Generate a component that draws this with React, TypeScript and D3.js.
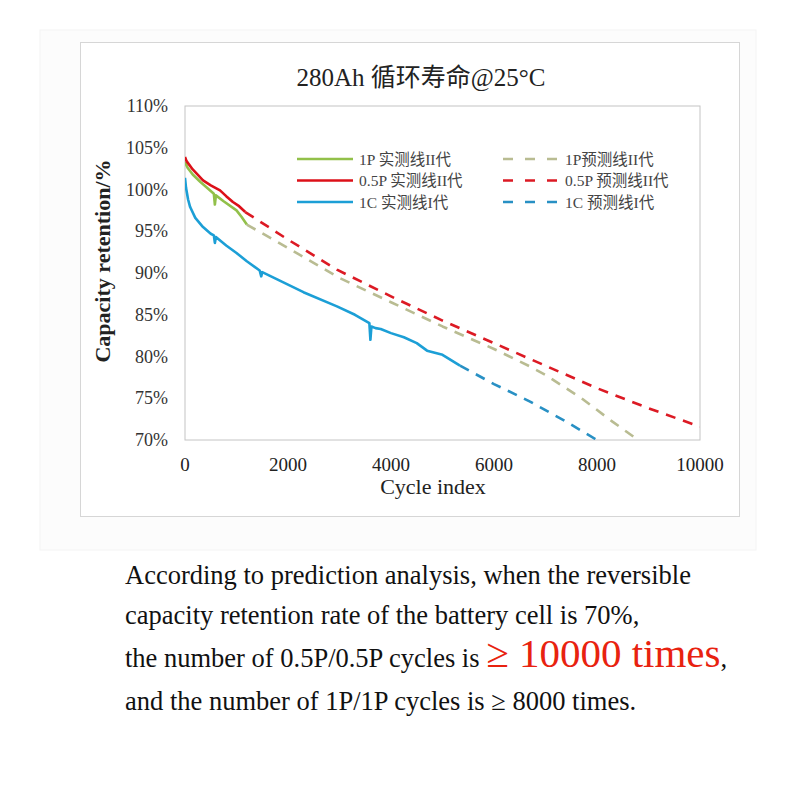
import React from 'react';
import * as d3 from 'd3';

// measured (solid) and predicted (dashed) capacity retention, cycles vs %
const greenCycles = [0, 50, 150, 300, 450, 560, 580, 600, 750, 1000, 1100, 1200];
const greenValues = [103.3, 102.6, 101.8, 100.9, 100.1, 99.5, 98.2, 99.3, 98.6, 97.5, 96.7, 95.8];
const greenPredCycles = [1200, 2000, 3000, 4000, 5000, 6000, 6700, 7000, 7700, 8300, 8800];
const greenPredValues = [95.8, 93.0, 89.4, 86.5, 83.6, 80.9, 78.8, 77.8, 75.0, 72.2, 70.0];

const redCycles = [0, 30, 150, 350, 500, 680, 800, 930, 1050, 1170];
const redValues = [103.9, 103.4, 102.4, 101.1, 100.5, 99.9, 99.2, 98.5, 98.0, 97.3];
const redPredCycles = [1170, 2000, 2950, 4000, 5000, 6000, 6700, 8000, 9000, 10000];
const redPredValues = [97.3, 94.0, 90.4, 87.2, 84.3, 81.6, 79.7, 76.2, 73.8, 71.6];

const blueCycles = [0, 20, 60, 100, 200, 350, 500, 560, 580, 600, 800, 1000, 1200, 1450, 1480, 1500, 1800, 2300, 2950, 3300, 3580, 3600, 3620, 3700, 3800, 4000, 4250, 4500, 4700, 5000, 5340];
const blueValues = [101.4, 100.2, 98.8, 97.9, 96.6, 95.5, 94.7, 94.5, 93.6, 94.3, 93.3, 92.4, 91.4, 90.3, 89.6, 90.1, 89.2, 87.7, 86.0, 85.0, 84.0, 82.0, 83.6, 83.4, 83.3, 82.8, 82.3, 81.6, 80.7, 80.2, 78.9];
const bluePredCycles = [5340, 6000, 6700, 7400, 8000];
const bluePredValues = [78.9, 76.7, 74.6, 72.2, 70.0];

const yTicks = [70, 75, 80, 85, 90, 95, 100, 105, 110];
const xTicks = [0, 2000, 4000, 6000, 8000, 10000];

const legendSolid = ['1P 实测线II代', '0.5P 实测线II代', '1C 实测线I代'];
const legendDashed = ['1P预测线II代', '0.5P 预测线II代', '1C 预测线I代'];

const solidColors = ['#92c04a', '#dc1018', '#1c9fd6'];
const dashColors = ['#b9bc92', '#dc1a24', '#2890c4'];

const serif = '"Liberation Serif", "Times New Roman", serif';
const cjk = '"Liberation Serif", "Noto Sans CJK SC", serif';

const App: React.FC = () => {
  const left = 185, right = 700, top = 106, bottom = 440;
  const x = d3.scaleLinear().domain([0, 10000]).range([left, right]);
  const y = d3.scaleLinear().domain([70, 110]).range([bottom, top]);

  const line = (cs: number[], vs: number[]) =>
    d3.line<number>()
      .x((_, i) => x(cs[i]))
      .y((v) => y(v))(vs) || '';

  const solids = [
    line(greenCycles, greenValues),
    line(redCycles, redValues),
    line(blueCycles, blueValues),
  ];
  const dashes = [
    line(greenPredCycles, greenPredValues),
    line(redPredCycles, redPredValues),
    line(bluePredCycles, bluePredValues),
  ];

  return (
    <svg width={800} height={800} style={{ position: 'absolute', left: 0, top: 0, background: '#fff' }}>
      <defs>
        <clipPath id="plot">
          <rect x={left} y={top} width={right - left} height={bottom - top} />
        </clipPath>
      </defs>
      <rect x={40} y={30} width={716} height={520} fill="#fcfcfc" stroke="#f4f4f4" />
      <rect x={80.5} y={42.5} width={659} height={474} fill="#fff" stroke="#d6d6d6" />

      <text x={421} y={86} textAnchor="middle" fontFamily={cjk} fontSize={25} fill="#222">
        280Ah 循环寿命@25°C
      </text>

      <rect x={left} y={top} width={right - left} height={bottom - top} fill="none" stroke="#c4c4c4" />

      {yTicks.map((t) => (
        <text key={t} x={168} y={y(t) + 6} textAnchor="end" fontFamily={serif} fontSize={18} fill="#333">
          {t}%
        </text>
      ))}
      {xTicks.map((t) => (
        <text key={t} x={x(t)} y={471} textAnchor="middle" fontFamily={serif} fontSize={19} fill="#222">
          {t}
        </text>
      ))}
      <text x={433} y={494} textAnchor="middle" fontFamily={serif} fontSize={22} fill="#222">
        Cycle index
      </text>
      <text
        transform={`translate(110,261) rotate(-90)`}
        textAnchor="middle"
        fontFamily={serif}
        fontSize={22}
        fontWeight="bold"
        fill="#222"
      >
        Capacity retention/%
      </text>

      <g clipPath="url(#plot)" fill="none" strokeLinejoin="round">
        {dashes.map((d, i) => (
          <path key={'d' + i} d={d} stroke={dashColors[i]} strokeWidth={2.6} strokeDasharray="10,8" />
        ))}
        {solids.map((d, i) => (
          <path key={'s' + i} d={d} stroke={solidColors[i]} strokeWidth={2.6} />
        ))}
      </g>

      {legendSolid.map((label, i) => (
        <g key={label} transform={`translate(297,${159 + i * 21.5})`}>
          <line x1={0} x2={56} stroke={solidColors[i]} strokeWidth={2.6} />
          <text x={62} y={5.5} fontFamily={cjk} fontSize={15.5} fill="#444">{label}</text>
        </g>
      ))}
      {legendDashed.map((label, i) => (
        <g key={label} transform={`translate(503,${159 + i * 21.5})`}>
          <line x1={0} x2={56} stroke={dashColors[i]} strokeWidth={2.6} strokeDasharray="10,12" />
          <text x={62} y={5.5} fontFamily={cjk} fontSize={15.5} fill="#444">{label}</text>
        </g>
      ))}

      <g fontFamily={serif} fontSize={26.5} fill="#111">
        <text x={125} y={584}>According to prediction analysis, when the reversible</text>
        <text x={125} y={624}>capacity retention rate of the battery cell is 70%,</text>
        <text x={125} y={667}>
          the number of 0.5P/0.5P cycles is{' '}
          <tspan fill="#e8220f" fontSize={41}>≥ 10000 times</tspan>,
        </text>
        <text x={125} y={710}>and the number of 1P/1P cycles is ≥ 8000 times.</text>
      </g>
    </svg>
  );
};

export default App;
